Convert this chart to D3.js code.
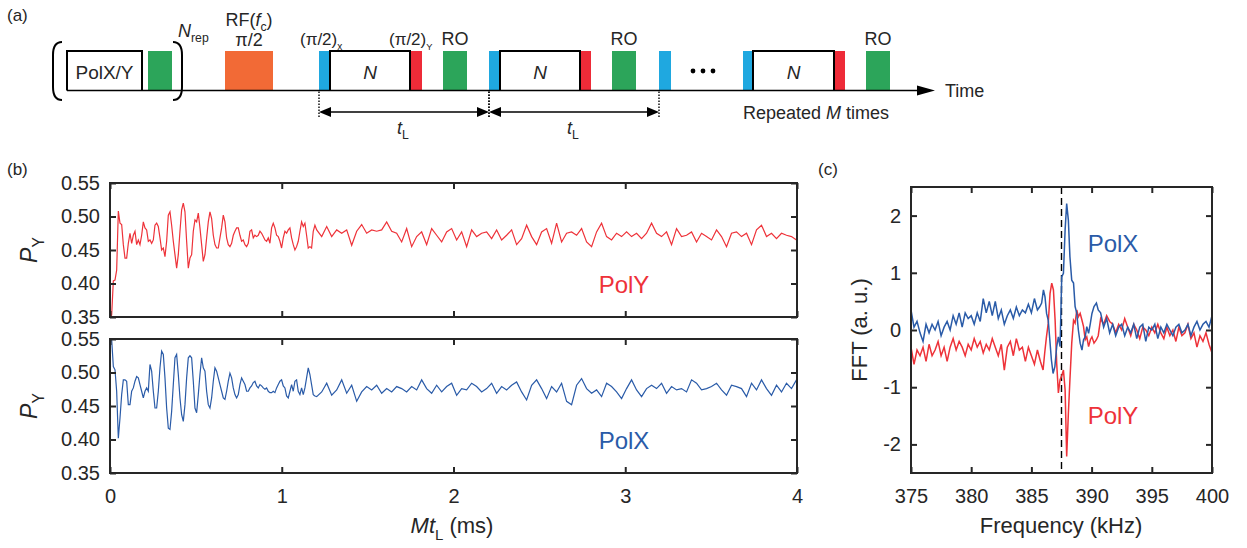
<!DOCTYPE html>
<html>
<head>
<meta charset="utf-8">
<title>Ramsey sequence, P_Y traces and FFT</title>
<style>
  body { margin: 0; background: #fff; }
  svg text { font-family: "Liberation Sans", Arial, sans-serif; fill: #262626; }
</style>
</head>
<body>
<script src="https://cdn.jsdelivr.net/npm/d3@7/dist/d3.min.js"></script>
<script>
// ---------------- data ----------------
var timeTicks = [0, 1, 2, 3, 4];
var pyTicks = [0.35, 0.40, 0.45, 0.50, 0.55];
var freqTicks = [375, 380, 385, 390, 395, 400];
var fftTicks = [-2, -1, 0, 1, 2];
var carrierFreq = 387.5;

// P_Y against M*t_L (ms). early part read finely, late part coarser
var t0Early = 0.0097, dtEarly = 0.0097;
var polYEarly = [
  .353,.404,.405,.42,.508,.49,.488,.458,.438,.438,
  .46,.475,.46,.472,.478,.458,.465,.458,.472,.492,
  .483,.48,.463,.465,.46,.465,.487,.49,.485,.468,
  .45,.453,.44,.463,.502,.507,.487,.463,.443,.423,
  .443,.478,.51,.52,.507,.463,.423,.438,.443,.478,
  .495,.492,.505,.483,.458,.433,.443,.468,.492,.507,
  .497,.472,.458,.453,.453,.468,.483,.502,.492,.468,
  .458,.455,.46,.472,.478,.483,.483,.472,.463,.465,
  .458,.455,.46,.478,.48,.468,.472,.47,.472,.478,
  .475,.47,.465,.463,.468,.46,.483,.49,.483,.472,
  .47,.463,.453,.468,.478,.475,.48,.483,.468,.458,
  .45,.455,.463,.478,.492,.485,.49,.472,.453,.455,
  .453,.478,.487
];
var polXEarly = [
  .549,.509,.504,.472,.402,.432,.467,.489,.489,.487,
  .452,.452,.472,.477,.487,.494,.492,.482,.472,.462,
  .472,.477,.472,.512,.502,.472,.447,.447,.472,.507,
  .532,.527,.492,.447,.417,.415,.442,.482,.522,.527,
  .497,.462,.437,.427,.452,.492,.522,.525,.522,.487,
  .447,.44,.467,.497,.522,.507,.502,.472,.452,.447,
  .462,.487,.507,.502,.492,.482,.472,.462,.46,.472,
  .487,.499,.492,.477,.467,.462,.467,.482,.492,.487,
  .482,.472,.472,.477,.48,.485,.487,.48,.477,.482,
  .48,.477,.475,.477,.472,.47,.47,.472,.47,.477,
  .482,.487,.489,.48,.477,.465,.462,.472,.482,.472,
  .487,.489,.472,.467,.477,.467,.477,.492,.507,.497,
  .482,.467,.465
];
var t0Late = 1.2035, dtLate = 0.0291;
var polYLate = [
  .480,.470,.485,.470,.480,.475,.480,.457,.478,.488,
  .475,.480,.478,.480,.492,.478,.475,
  .462,.482,.455,.470,.477,.458,.482,.472,.462,.477,
  .482,.465,.477,.455,.480,.470,.475,.477,.467,.480,
  .465,.472,.480,.458,.467,.487,.470,.458,.477,.482,
  .460,.490,.462,.475,.477,.472,.482,.462,.455,.477,
  .490,.470,.465,.475,.470,.477,.470,.475,.467,.475,
  .490,.475,.470,.477,.458,.482,.470,.472,.477,.462,
  .475,.470,.465,.480,.470,.455,.475,.477,.470,.475,
  .458,.480,.487,.470,.475,.467,.475,.472,.470,.465
];
var polXLate = [
  .464,.471,.484,.466,.474,.489,.469,.481,.457,.471,
  .479,.474,.481,.469,.476,.471,.479,
  .476,.471,.479,.474,.489,.476,.469,.481,.471,.479,
  .484,.466,.476,.474,.484,.479,.471,.476,.484,.469,
  .479,.474,.481,.486,.471,.459,.481,.489,.476,.461,
  .479,.471,.484,.457,.452,.481,.491,.476,.469,.474,
  .464,.484,.479,.471,.461,.476,.489,.474,.464,.476,
  .481,.476,.484,.469,.479,.474,.476,.471,.489,.484,
  .474,.476,.479,.484,.474,.466,.481,.479,.476,.464,
  .484,.474,.489,.476,.466,.481,.471,.484,.476,.489
];

// FFT (a.u.) against frequency (kHz)
var fftFreqX = [
  375,375.25,375.5,375.75,376,376.25,376.5,376.75,377,377.25,
  377.5,377.75,378,378.25,378.5,378.75,379,379.25,379.5,379.75,
  380,380.25,380.5,380.75,381,381.25,381.5,381.75,382,382.25,
  382.5,382.75,383,383.25,383.5,383.75,384,384.25,384.5,384.75,
  385,385.25,385.5,385.7,385.85,386,386.13,386.26,386.4,386.53,
  386.66,386.8,386.95,387.1,387.24,387.38,387.52,387.66,387.8,387.93,
  388.07,388.2,388.35,388.5,388.63,388.77,388.9,389.05,389.2,389.33,
  389.47,389.6,389.75,389.9,390.03,390.2,390.4,390.55,390.75,391,
  391.25,391.5,391.75,392,392.25,392.5,392.75,393,393.25,393.5,
  393.75,394,394.25,394.5,394.75,395,395.25,395.5,395.75,396,
  396.25,396.5,396.75,397,397.25,397.5,397.75,398,398.25,398.5,
  398.75,399,399.25,399.5,399.75,400
];
var fftPolX = [
  .35,.05,.15,-.05,-.2,.1,-.05,.1,0,.15,
  -.1,.05,.15,0,.25,.1,.3,.05,.3,.2,
  .25,.1,.3,.15,.55,.3,.5,.25,.5,.2,
  .35,.1,.25,.35,.2,.4,.25,.35,.3,.45,
  .3,.55,.35,.41,.47,.7,.58,.29,.17,-.17,
  -.52,-.76,-.64,-.29,-.12,-.29,.93,.99,1.75,2.21,
  1.92,1.28,.87,.82,.41,.29,0,-.23,-.35,-.17,
  -.12,.06,-.06,.12,.29,.41,.47,.35,.3,.05,
  .2,-.05,.1,-.1,.05,.1,-.1,.05,-.05,.1,
  -.15,.05,.1,-.2,.05,0,.1,-.15,.05,-.05,
  .1,0,-.1,.05,.1,-.05,0,.1,-.1,.05,
  .15,0,.1,.15,.05,.25
];
var fftFreqY = [
  375,375.25,375.5,375.75,376,376.25,376.5,376.75,377,377.25,
  377.5,377.75,378,378.25,378.5,378.75,379,379.25,379.5,379.75,
  380,380.25,380.5,380.75,381,381.25,381.5,381.75,382,382.25,
  382.5,382.75,383,383.25,383.5,383.75,384,384.25,384.5,384.75,
  385,385.25,385.5,385.75,
  385.97,386.1,386.25,386.4,386.55,386.69,386.83,386.97,387.1,387.24,
  387.38,387.52,387.66,387.8,387.93,388.07,388.2,388.35,388.5,388.63,
  388.77,388.9,389.05,389.2,389.33,389.47,389.6,389.75,389.9,390.03,
  390.2,390.4,390.55,
  390.75,391,391.25,391.5,391.75,392,392.25,392.5,392.75,393,
  393.25,393.5,393.75,394,394.25,394.5,394.75,395,395.25,395.5,
  395.75,396,396.25,396.5,396.75,397,397.25,397.5,397.75,398,
  398.25,398.5,398.75,399,399.25,399.5,399.75,400
];
var fftPolY = [
  -.3,-.6,-.35,-.45,-.3,-.55,-.25,-.45,-.35,-.2,
  -.45,-.3,-.55,-.3,-.15,-.35,-.2,-.3,-.45,-.25,
  -.35,-.15,-.3,-.2,-.4,-.25,-.35,-.15,-.3,-.45,
  -.25,-.7,-.3,-.2,-.45,-.15,-.35,-.3,-.55,-.3,
  -.45,-.6,-.35,-.55,
  -.7,-.41,-.12,.12,.64,.82,.7,.17,-.58,-1.1,
  -.87,-.8,-.7,-1.05,-2.21,-1.46,-.87,-.23,.17,.12,
  .35,.23,.29,.17,.06,-.17,-.12,-.29,-.17,-.12,
  -.23,-.17,-.1,
  .2,.1,.25,.15,.1,-.05,.1,0,.2,.05,
  -.1,.1,0,-.15,.05,0,-.1,.05,-.05,.1,
  -.05,-.15,.05,-.1,0,-.2,.05,-.1,-.05,.1,
  -.15,-.05,-.3,-.1,-.2,-.05,-.25,-.4
];

// ---------------- page ----------------
var width = 1247, height = 548;
var ink = '#262626', red = '#ee3239', blue = '#2a5ba8';
var svg = d3.select('body').append('svg').attr('width', width).attr('height', height);

function series(early, late) {
  return early.map(function (v, i) { return [t0Early + i * dtEarly, v]; })
    .concat(late.map(function (v, i) { return [t0Late + i * dtLate, v]; }));
}

// text with italic / subscript pieces
function rich(g, x, y, parts, size, anchor, color) {
  var t = g.append('text').attr('x', x).attr('y', y).attr('font-size', size)
    .attr('text-anchor', anchor || 'start');
  if (color) t.style('fill', color);
  var shift = 0;
  parts.forEach(function (p) {
    var s = t.append('tspan').text(p.t);
    var want = p.sub ? size * 0.3 : 0;
    s.attr('dy', want - shift);
    shift = want;
    if (p.sub) s.attr('font-size', size * (p.small || 0.68));
    if (p.it) s.attr('font-style', 'italic');
  });
  return t;
}

function styleAxis(sel, fs) {
  sel.select('.domain').remove();
  sel.selectAll('.tick line').attr('stroke', ink).attr('stroke-width', 2);
  sel.selectAll('.tick text').attr('font-size', fs).attr('fill', ink)
    .attr('font-family', '"Liberation Sans", Arial, sans-serif');
}

function drawFrame(x, y, xt, yt, xf, yf) {
  var g = svg.append('g');
  var x0 = x.range()[0], x1 = x.range()[1], y0 = y.range()[0], y1 = y.range()[1];
  var none = function () { return ''; };
  g.append('g').attr('transform', 'translate(0,' + y0 + ')')
    .call(d3.axisBottom(x).tickValues(xt).tickSize(-6).tickPadding(16).tickFormat(xf || none))
    .call(styleAxis, 20);
  g.append('g').attr('transform', 'translate(0,' + y1 + ')')
    .call(d3.axisTop(x).tickValues(xt).tickSize(-6).tickFormat(none)).call(styleAxis, 20);
  g.append('g').attr('transform', 'translate(' + x0 + ',0)')
    .call(d3.axisLeft(y).tickValues(yt).tickSize(-6).tickPadding(10).tickFormat(yf))
    .call(styleAxis, 20);
  g.append('g').attr('transform', 'translate(' + x1 + ',0)')
    .call(d3.axisRight(y).tickValues(yt).tickSize(-6).tickFormat(none)).call(styleAxis, 20);
  g.append('rect').attr('x', x0).attr('y', y1).attr('width', x1 - x0).attr('height', y0 - y1)
    .attr('fill', 'none').attr('stroke', ink).attr('stroke-width', 2);
}

function clipFor(id, x, y) {
  svg.append('clipPath').attr('id', id).append('rect')
    .attr('x', x.range()[0]).attr('y', y.range()[1])
    .attr('width', x.range()[1] - x.range()[0]).attr('height', y.range()[0] - y.range()[1]);
  return 'url(#' + id + ')';
}

// panel labels
svg.append('text').attr('x', 7).attr('y', 21).attr('font-size', 17).text('(a)');
svg.append('text').attr('x', 7).attr('y', 175).attr('font-size', 17).text('(b)');
svg.append('text').attr('x', 818).attr('y', 175).attr('font-size', 17).text('(c)');

// ---------------- (a) pulse sequence ----------------
var seqX = d3.scaleLinear().domain([0, 868]).range([67, 935]);
var seqTop = 51, seqBase = 90.5;
var blocks = [
  [0, 75, 'box'], [81, 105, 'ro'], [158, 206, 'rf'],
  [252, 263, 'px'], [263, 343, 'N'], [343, 355, 'py'], [376, 400, 'ro'],
  [422, 433, 'px'], [433, 513, 'N'], [513, 524, 'py'], [545, 569, 'ro'],
  [592, 604, 'px'],
  [676, 686, 'px'], [686, 767, 'N'], [767, 778, 'py'], [799, 823, 'ro']
];
var fills = { ro: '#2ca55a', rf: '#f26a36', px: '#1fa8e0', py: '#ee2b38' };
var ga = svg.append('g');

ga.selectAll('rect.pulse').data(blocks.filter(function (b) { return fills[b[2]]; }))
  .enter().append('rect').attr('class', 'pulse')
  .attr('x', function (b) { return seqX(b[0]); })
  .attr('y', seqTop)
  .attr('width', function (b) { return seqX(b[1]) - seqX(b[0]); })
  .attr('height', seqBase - seqTop)
  .attr('fill', function (b) { return fills[b[2]]; });

ga.selectAll('path.box').data(blocks.filter(function (b) { return !fills[b[2]]; }))
  .enter().append('path').attr('class', 'box')
  .attr('d', function (b) {
    return 'M' + seqX(b[0]) + ',' + seqBase + 'V' + seqTop + 'H' + seqX(b[1]) + 'V' + seqBase;
  })
  .attr('fill', 'none').attr('stroke', '#000').attr('stroke-width', 2);

// time axis with arrow
ga.append('line').attr('x1', seqX(0)).attr('x2', seqX(852)).attr('y1', seqBase).attr('y2', seqBase)
  .attr('stroke', '#000').attr('stroke-width', 1.6);
ga.append('path').attr('d', 'M' + seqX(868) + ',' + seqBase + 'L' + seqX(850) + ',' + (seqBase - 5) +
  'L' + seqX(850) + ',' + (seqBase + 5) + 'Z').attr('fill', '#000');

// brackets around the polarization block
ga.append('path').attr('d', 'M62,42 Q53,42 53,55 L53,87 Q53,100 62,100')
  .attr('fill', 'none').attr('stroke', '#000').attr('stroke-width', 2);
ga.append('path').attr('d', 'M173,42 Q182,42 182,55 L182,87 Q182,100 173,100')
  .attr('fill', 'none').attr('stroke', '#000').attr('stroke-width', 2);

// labels in the sequence
var midOf = function (b) { return (seqX(b[0]) + seqX(b[1])) / 2; };
ga.append('text').attr('x', midOf(blocks[0])).attr('y', 79).attr('font-size', 19)
  .attr('text-anchor', 'middle').text('PolX/Y');
blocks.filter(function (b) { return b[2] === 'N'; }).forEach(function (b) {
  ga.append('text').attr('x', midOf(b)).attr('y', 79).attr('font-size', 19)
    .attr('text-anchor', 'middle').attr('font-style', 'italic').text('N');
});
[blocks[6], blocks[10], blocks[15]].forEach(function (b) {
  ga.append('text').attr('x', midOf(b)).attr('y', 45).attr('font-size', 18)
    .attr('text-anchor', 'middle').text('RO');
});
rich(ga, 178, 37, [{ t: 'N', it: true }, { t: 'rep', sub: true }], 18);
rich(ga, midOf(blocks[2]), 26, [{ t: 'RF(' }, { t: 'f', it: true }, { t: 'c', sub: true }, { t: ')' }], 18, 'middle');
ga.append('text').attr('x', midOf(blocks[2])).attr('y', 46).attr('font-size', 18)
  .attr('text-anchor', 'middle').text('\u03c0/2');
rich(ga, 300, 45, [{ t: '(\u03c0/2)' }, { t: 'x', sub: true, small: 0.6 }], 17);
rich(ga, 389, 45, [{ t: '(\u03c0/2)' }, { t: 'Y', sub: true, small: 0.55 }], 17);

ga.selectAll('circle.dot').data([626, 636, 646]).enter().append('circle')
  .attr('cx', function (d) { return seqX(d); }).attr('cy', 71).attr('r', 2.4).attr('fill', '#000');

ga.append('text').attr('x', 945).attr('y', 97).attr('font-size', 18).text('Time');
rich(ga, 816, 119, [{ t: 'Repeated ' }, { t: 'M', it: true }, { t: ' times' }], 18, 'middle');

// t_L spans
var spans = [[252, 422], [422, 592]];
spans.forEach(function (s) {
  var a = seqX(s[0]), b = seqX(s[1]), yA = 112;
  [a, b].forEach(function (xx) {
    ga.append('line').attr('x1', xx).attr('x2', xx).attr('y1', seqBase + 1).attr('y2', yA + 5)
      .attr('stroke', '#000').attr('stroke-width', 1.4).attr('stroke-dasharray', '1.5,1.5');
  });
  ga.append('line').attr('x1', a + 10).attr('x2', b - 10).attr('y1', yA).attr('y2', yA)
    .attr('stroke', '#000').attr('stroke-width', 1.4);
  ga.append('path').attr('d', 'M' + a + ',' + yA + 'l12,-5v10z').attr('fill', '#000');
  ga.append('path').attr('d', 'M' + b + ',' + yA + 'l-12,-5v10z').attr('fill', '#000');
  rich(ga, (a + b) / 2 - 1, 134, [{ t: 't', it: true }, { t: 'L', sub: true }], 18, 'middle');
});

// ---------------- (b) P_Y traces ----------------
var xT = d3.scaleLinear().domain([0, 4]).range([110, 797]);
var yTop = d3.scaleLinear().domain([0.35, 0.55]).range([317, 183]);
var yBot = d3.scaleLinear().domain([0.35, 0.55]).range([473, 339]);
var fmt2 = d3.format('.2f');
var lineTop = d3.line().x(function (d) { return xT(d[0]); }).y(function (d) { return yTop(d[1]); });
var lineBot = d3.line().x(function (d) { return xT(d[0]); }).y(function (d) { return yBot(d[1]); });

svg.append('path').datum([[0, 0.35]].concat(series(polYEarly, polYLate)))
  .attr('clip-path', clipFor('clipTop', xT, yTop))
  .attr('d', lineTop).attr('fill', 'none').attr('stroke', red).attr('stroke-width', 1.2);
svg.append('path').datum([[0, 0.55]].concat(series(polXEarly, polXLate)))
  .attr('clip-path', clipFor('clipBot', xT, yBot))
  .attr('d', lineBot).attr('fill', 'none').attr('stroke', blue).attr('stroke-width', 1.2);

drawFrame(xT, yTop, timeTicks, pyTicks, null, fmt2);
drawFrame(xT, yBot, timeTicks, pyTicks, d3.format('d'), fmt2);

svg.append('text').attr('x', 624).attr('y', 293).attr('font-size', 24)
  .attr('text-anchor', 'middle').style('fill', red).text('PolY');
svg.append('text').attr('x', 624).attr('y', 449).attr('font-size', 24)
  .attr('text-anchor', 'middle').style('fill', blue).text('PolX');

[250, 406].forEach(function (cy) {
  var g = svg.append('g').attr('transform', 'translate(37,' + cy + ') rotate(-90)');
  rich(g, 0, 0, [{ t: 'P', it: true }, { t: 'Y', sub: true }], 23, 'middle');
});
rich(svg, 452, 533, [{ t: 'Mt', it: true }, { t: 'L', sub: true }, { t: ' (ms)' }], 22, 'middle');

// ---------------- (c) FFT ----------------
var xF = d3.scaleLinear().domain([375, 400]).range([911, 1212]);
var yF = d3.scaleLinear().domain([-2.5, 2.5]).range([473, 187]);
var lineF = d3.line().x(function (d) { return xF(d[0]); }).y(function (d) { return yF(d[1]); });
var clipF = clipFor('clipF', xF, yF);

svg.append('line').attr('x1', xF(carrierFreq)).attr('x2', xF(carrierFreq))
  .attr('y1', yF(2.5)).attr('y2', yF(-2.5))
  .attr('stroke', '#000').attr('stroke-width', 1.4).attr('stroke-dasharray', '7,4');

svg.append('path').datum(fftFreqY.map(function (f, i) { return [f, fftPolY[i]]; }))
  .attr('clip-path', clipF).attr('d', lineF)
  .attr('fill', 'none').attr('stroke', red).attr('stroke-width', 1.5);
svg.append('path').datum(fftFreqX.map(function (f, i) { return [f, fftPolX[i]]; }))
  .attr('clip-path', clipF).attr('d', lineF)
  .attr('fill', 'none').attr('stroke', blue).attr('stroke-width', 1.5);

drawFrame(xF, yF, freqTicks, fftTicks, d3.format('d'), function (d) { return String(d); });

svg.append('text').attr('x', 1113).attr('y', 252).attr('font-size', 24)
  .attr('text-anchor', 'middle').style('fill', blue).text('PolX');
svg.append('text').attr('x', 1113).attr('y', 424).attr('font-size', 24)
  .attr('text-anchor', 'middle').style('fill', red).text('PolY');

svg.append('text').attr('transform', 'translate(867,330) rotate(-90)').attr('font-size', 22)
  .attr('text-anchor', 'middle').text('FFT (a. u.)');
svg.append('text').attr('x', 1061).attr('y', 533).attr('font-size', 22)
  .attr('text-anchor', 'middle').text('Frequency (kHz)');
</script>
</body>
</html>
